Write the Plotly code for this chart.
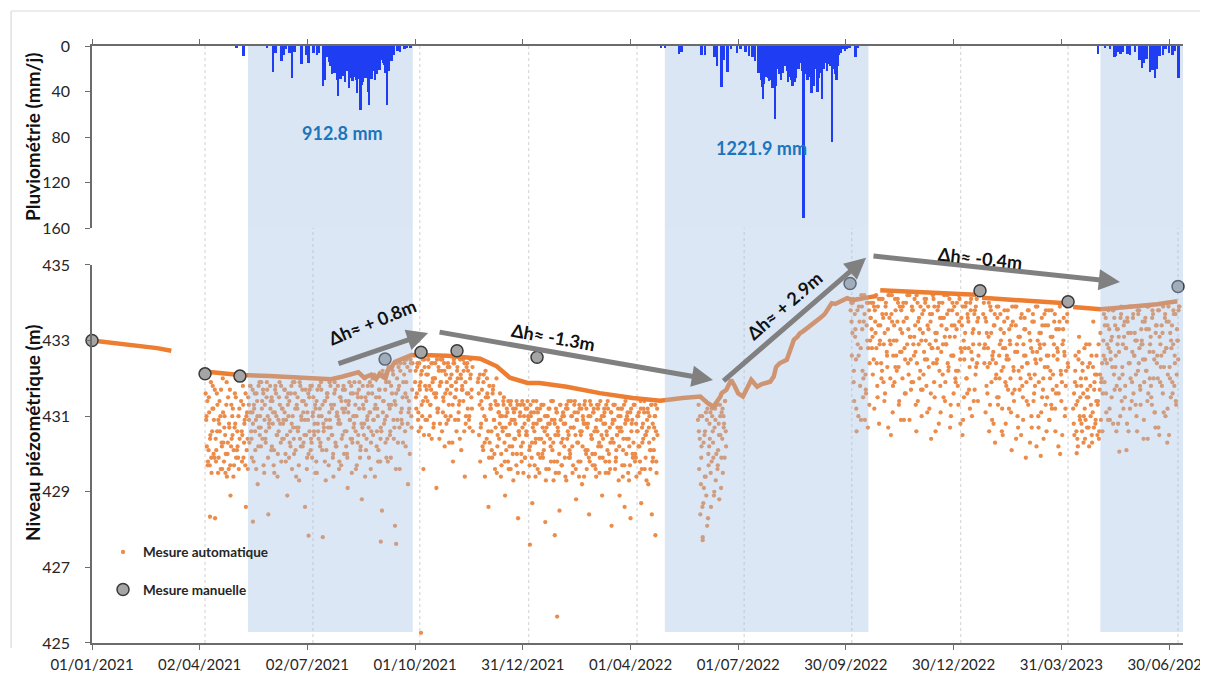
import plotly.graph_objects as go
import pandas as pd

BASE = pd.Timestamp("2021-01-01")


def to_date(v):
    return None if v is None else BASE + pd.Timedelta(days=v)


# ---------------- axis ticks ----------------
tick_days = [0, 91, 182, 273, 364, 455, 546, 637, 728, 819, 910]
tick_text = ["01/01/2021", "02/04/2021", "02/07/2021", "01/10/2021", "31/12/2021",
             "01/04/2022", "01/07/2022", "30/09/2022", "30/12/2022", "31/03/2023",
             "30/06/2023"]
grid_days = [95.5, 186.7, 277, 369, 460.5, 551, 642, 734, 824.7, 917.6]
rain_ticks = [0, 40, 80, 120, 160]
level_ticks = [425, 427, 429, 431, 433, 435]

# ---------------- rainfall (mm/day), day offset from 01/01/2021 ----------------
rain_day = [122, 128, 148, 153, 155, 160, 162, 164, 167, 169, 171, 177, 181, 183, 187, 190,
            192, 195, 197, 199, 200, 201, 202, 203, 204, 205, 206, 207, 208, 209, 210, 211,
            212, 213, 214, 215, 216, 217, 218, 219, 220, 221, 222, 223, 224, 225, 226, 227,
            228, 229, 230, 231, 232, 233, 234, 235, 236, 237, 238, 239, 240, 241, 242, 243,
            244, 245, 246, 247, 248, 249, 250, 251, 252, 253, 255, 258, 260, 264, 266, 269,
            481, 484, 496, 498, 515, 518, 526, 528, 532, 534, 537, 540, 545, 548, 552, 555,
            558, 560, 563, 564, 565, 566, 567, 568, 569, 570, 571, 572, 573, 574, 575, 576,
            577, 578, 579, 580, 581, 582, 583, 584, 585, 586, 587, 588, 589, 590, 591, 592,
            593, 594, 595, 596, 597, 598, 599, 600, 601, 602, 603, 604, 605, 606, 607, 608,
            609, 610, 611, 612, 613, 614, 615, 616, 617, 618, 619, 620, 621, 622, 623, 624,
            625, 626, 627, 628, 629, 630, 631, 632, 633, 634, 636, 638, 640, 645, 647,
            850, 856, 860, 864, 865, 867, 869, 871, 875, 877, 881, 885, 887, 889, 891, 894,
            896, 898, 900, 902, 905, 907, 910, 913, 915, 918]
rain_mm = [1, 9, 2, 23, 6, 13, 8, 3, 6, 28, 5, 16, 8, 15, 6, 8,
           6, 35, 30, 10, 14, 18, 16, 25, 21, 24, 18, 30, 44, 22, 29, 20,
           26, 24, 32, 22, 19, 37, 28, 26, 31, 27, 22, 30, 41, 18, 29, 56,
           34, 32, 26, 28, 21, 40, 52, 15, 29, 22, 20, 30, 14, 25, 16, 21,
           12, 6, 15, 17, 24, 52, 18, 22, 10, 13, 8, 4, 5, 3, 2, 2,
           2, 1, 7, 5, 8, 8, 10, 18, 36, 12, 23, 3, 6, 3, 5, 9,
           10, 13, 24, 20, 30, 36, 47, 33, 25, 27, 28, 31, 22, 30, 37, 26,
           64, 35, 17, 20, 25, 30, 15, 24, 12, 18, 22, 32, 27, 26, 30, 35,
           24, 32, 28, 12, 20, 8, 15, 22, 151, 25, 18, 30, 30, 27, 22, 41,
           25, 35, 20, 18, 40, 28, 12, 24, 47, 20, 6, 15, 22, 16, 12, 18,
           84, 20, 20, 25, 30, 18, 8, 4, 6, 3, 4, 3, 2, 10, 2,
           7, 2, 3, 10, 9, 5, 7, 5, 7, 8, 5, 12, 19, 15, 11, 23,
           21, 28, 20, 9, 8, 3, 6, 8, 4, 28]
rain_total_text = ["912.8 mm", "1221.9 mm"]

# rainy seasons (shaded), day offsets
season_start = [131.8, 484, 852]
season_end = [271, 656, 923]

# ---------------- piezometric level (m) ----------------
manual_day = [0, 95.5, 125, 247.6, 278, 308.4, 376, 640.5, 750.3, 824.7, 917.6]
manual_level = [433.0, 432.12, 432.06, 432.51, 432.69, 432.73, 432.56, 434.51, 434.32, 434.03, 434.43]

# upper envelope of the automatic record (dense band)
line_day = [0, 20, 40, 55, 67, None,
            95, 110, 125, 150, 170, 190, 202, 212, 220, 225, 230, 236, 240, 243, 245, 248,
            250, 253, 256, 263, 270, 285, 300, 317, 328, 342, 353, 368, 378, 401, 429, 457,
            480, 499, 514, 520, 525, 531, 532, 536, 540, 543, 546, 550, 553, 557, 560, 562,
            566, 570, 573, 576, 578, 581, 584, 587, 590, 593, 596, 598, 601, 604, 608, 612,
            616, 619, 621, 623, 625, 628, 632, 635, 638, 643, 650, 657, 663, None,
            666, 690, 720, 747, None,
            752, 770, 792, 823, None,
            829, 840, 852, 865, 880, 900, 917]
line_level = [433.00, 432.93, 432.85, 432.80, 432.73, None,
              432.18, 432.13, 432.09, 432.06, 432.04, 432.00, 431.98, 432.05, 432.12, 432.16,
              432.02, 432.10, 431.98, 432.12, 432.06, 432.00,
              432.22, 432.30, 432.44, 432.52, 432.62, 432.61, 432.60, 432.55, 432.52, 432.32,
              432.02, 431.88, 431.88, 431.78, 431.61, 431.48,
              431.41, 431.48, 431.52, 431.35, 431.25, 431.52, 431.61, 431.70, 431.96, 431.80,
              431.60, 431.52, 431.70, 431.96, 431.85, 431.78,
              431.85, 431.88, 431.91, 432.05, 432.30, 432.40, 432.45, 432.49, 432.75, 433.02,
              433.10, 433.19, 433.25, 433.32, 433.40, 433.50,
              433.62, 433.70, 433.81, 433.88, 433.99, 433.97, 434.03, 434.08, 434.12, 434.07,
              434.12, 434.15, 434.18, None,
              434.33, 434.30, 434.26, 434.21, None,
              434.13, 434.09, 434.04, 433.99, None,
              433.89, 433.87, 433.83, 433.86, 433.90, 433.96, 434.04]

# scattered automatic readings: three per day (00h, 12h, 18h) from each segment start
cloud_start_day = [96, 273, 326, 512, 641, 753, 829]
cloud_b = [431.6, 430.2, 429.8, 431.1, 430.5, 429.5, 431.8, 430.9, 428.3, 430.1,
           431.3, 429.9, 430.6, 431.7, 429.6, 430.3, 431.0, 430.0, 429.4, 431.5,
           430.7, 428.9, 430.4, 431.2, 429.7, 430.8, 432.0, 430.2, 429.6, None,
           431.4, 430.5, 429.9, 430.9, 428.6, 431.1,
           431.5, 430.3, 431.8, 429.9, 430.8, 431.2, 430.1, 431.6, 429.2, 430.7,
           431.0, 431.9, 430.4, 429.7, 431.3, 430.6, 431.7, 428.4, 430.9, 431.4,
           430.2, 431.1, 429.5, 431.8, 430.5, 430.0, 431.5, 430.8, 429.8, 431.2,
           430.4, 431.7, 430.9, 428.9, 431.0, 430.3, 431.6, 429.6, 430.7, 431.9,
           430.1, 431.3, 430.6, 429.3, 431.8, 430.9, 430.2, 431.4, 428.6, 430.5,
           431.1, 430.0, 431.7, 430.4, 429.9, 431.5, 430.8, 431.2, 429.5, 430.6,
           431.8, 430.3, 431.0, 427.8, 430.7, 431.4, 430.1, 431.6, 429.7, 430.9,
           431.3, 430.5, 429.4, 431.9, 430.2, 431.1, 430.8, 429.8, 431.5, 430.4,
           431.7, 430.0, 431.2, 430.6, 429.1, 431.4, 430.9, 431.8, 430.3, 430.7,
           431.0, 429.6, 431.6, 430.5, 431.9, 430.2, 428.8, 431.3, 430.8, 431.5,
           430.4, 431.8, 429.9, 431.1, 430.6, 432.0, 430.9, 429.4, 431.5, 431.2,
           430.1, 431.7, 430.7, 428.5, 431.4, 432.1, 430.3, 431.0, 429.8, 431.9,
           430.6, 431.3, 432.2, 430.4, 428.1, 431.6, 430.9, 432.3, 429.6, 431.1,
           430.8, 431.9, 432.4, 430.2, 431.5, 429.2, 431.2, 432.5, 430.7]
cloud_b_pm = [430.9, 431.4, 430.1, 429.7, 431.9, 430.6, 431.2, 429.9, 430.4, 431.6,
              429.5, 430.8, 431.0, 430.3, 432.0, 429.8, 430.5, 431.3, 430.0, 429.6,
              431.7, 430.2, 431.0, 429.4, 430.7, 431.5, 430.1, 429.9, 431.2, None,
              430.6, 431.8, 430.3, 429.7, 431.0, 430.4,
              431.3, 431.8, 430.6, 431.1, 429.8, 431.6, 430.9, 431.4, 430.2, 431.9,
              430.7, 431.2, 431.7, 429.5, 430.4, 431.5, 431.0, 430.8, 431.8, 430.1,
              431.4, 429.7, 431.1, 431.6, 430.5, 430.9, 431.9, 430.3, 431.2, 430.8,
              431.7, 430.0, 431.5, 431.3, 429.9, 430.6, 431.8, 431.0, 430.4, 431.6,
              429.4, 431.2, 430.7, 431.9, 430.2, 431.4, 431.1, 430.5, 431.7, 429.6,
              430.9, 431.5, 431.8, 430.3, 431.0, 430.6, 431.3, 429.8, 431.7, 430.4,
              431.2, 431.9, 430.1, 430.8, 431.4, 429.3, 431.6, 430.7, 431.1, 431.8,
              430.5, 429.9, 431.3, 431.7, 430.2, 431.0, 430.9, 431.5, 429.7, 431.2,
              431.8, 430.6, 431.4, 430.0, 431.1, 431.9, 430.4, 429.5, 431.6, 430.8,
              431.3, 431.0, 430.3, 431.7, 429.9, 431.5, 430.7, 431.2, 432.0, 430.1,
              430.9, 431.6, 431.1, 429.6, 431.8, 430.5, 432.1, 431.3, 430.2, 431.0,
              431.7, 429.8, 430.6, 432.2, 431.4, 430.9, 431.9, 430.4, 432.3, 431.2,
              429.9, 431.6, 432.1, 430.7, 431.3, 432.4, 430.3, 431.8, 432.2, 430.9,
              431.5, 432.5, 430.6, 431.9, 432.3, 431.1, 430.0, 432.4, 431.7]
cloud_b_ev = [431.0, 429.7, 431.5, 430.4, 429.9, 431.2, 430.0, 431.7, 429.8, 430.6,
              430.9, 431.4, 429.6, 430.2, 431.1, 430.7, 429.5, 431.9, 430.3, 430.8,
              429.7, 431.3, 430.5, 430.1, 431.6, 429.9, 430.6, 431.0, 430.4, None,
              429.8, 431.3, 430.8, 431.6, 430.1, 429.6,
              430.9, 431.1, 430.4, 431.7, 431.3, 430.6, 429.6, 431.0, 431.8, 430.5,
              430.2, 431.4, 431.6, 430.9, 430.3, 431.9, 429.9, 430.7, 431.2, 431.5,
              430.8, 430.1, 431.7, 431.0, 429.4, 430.6, 431.3, 431.8, 430.4, 430.9,
              431.1, 429.8, 430.5, 431.6, 431.4, 430.2, 430.8, 431.9, 430.0, 431.2,
              430.7, 431.5, 429.7, 430.4, 431.0, 431.7, 430.3, 430.9, 431.3, 429.9,
              431.6, 430.6, 430.1, 431.8, 431.1, 430.5, 429.5, 431.4, 430.8, 431.0,
              430.2, 431.7, 431.3, 430.6, 429.8, 430.9, 431.5, 430.4, 431.9, 430.7,
              431.2, 430.0, 431.6, 430.3, 431.0, 431.8, 429.6, 430.8, 431.4, 430.5,
              431.1, 431.7, 430.2, 429.9, 431.3, 430.9, 431.6, 430.4, 431.0, 431.9,
              430.6, 429.7, 431.5, 431.2, 430.1, 430.8, 431.8, 430.5, 429.4, 431.4,
              431.0, 430.7, 431.9, 430.3, 431.6, 430.9, 431.2, 432.0, 430.6, 429.8,
              431.5, 430.4, 432.1, 431.1, 430.8, 431.7, 429.9, 432.2, 431.3, 430.5,
              431.8, 432.3, 430.9, 431.4, 429.6, 432.0, 431.7, 430.7, 432.4, 431.2,
              430.3, 432.1, 431.6, 432.5, 430.8, 431.4, 432.2, 431.0, 432.4]
cloud_c = [431.9, 431.2, 432.4, 430.6, 431.7, 432.1, 431.0, 429.6, 432.3, 431.5,
           430.9, 432.5, 431.8, 431.3, 430.4, 432.0, 431.6, 432.4, 429.1, 431.1,
           432.2, 430.8, 431.9, 432.5, 431.4, 430.2, 432.1, 431.7, 430.9, 432.3,
           431.0, 431.8, 429.8, 432.4, 431.5, 430.6, 432.0, 431.3, 432.5, 430.1,
           431.7, 432.2, 429.4, 431.0, 432.4, 431.6, 430.7, 432.1, 431.2]
cloud_c_pm = [432.2, 431.6, 430.9, 432.4, 431.9, 431.3, 432.5, 430.5, 431.8, 432.1,
              431.4, 432.3, 431.0, 431.7, 432.4, 430.7, 432.0, 431.5, 432.5, 431.2,
              430.4, 431.9, 432.2, 431.1, 432.4, 431.6, 430.8, 432.3, 431.3, 432.0,
              431.8, 430.3, 432.4, 431.5, 431.9, 432.2, 430.9, 431.4, 432.1, 431.7,
              432.5, 430.6, 431.9, 432.3, 431.2, 430.9, 432.0, 431.5, 432.3]
cloud_c_ev = [431.5, 432.3, 431.1, 431.8, 430.7, 432.2, 431.4, 432.5, 430.9, 431.7,
              432.1, 430.5, 431.3, 432.4, 431.9, 430.8, 432.0, 431.6, 431.2, 432.3,
              431.8, 432.5, 430.6, 431.5, 432.2, 431.0, 431.9, 432.4, 430.3, 431.6,
              432.1, 431.3, 432.5, 430.9, 431.7, 432.3, 431.1, 430.4, 432.0, 431.8,
              431.4, 432.4, 430.8, 431.6, 432.2, 431.0, 432.5, 431.7, 430.6]
cloud_d = [431.9, 430.5, 429.8, 431.4, 430.2, 432.1, 429.4, 430.9, 431.6, 428.6,
           430.3, 431.2, 429.9, 431.8, 430.0, 430.7, 429.5, 431.3, 430.4, 431.0,
           429.7, 430.6, 431.5, 428.9, 430.1, 431.1, 429.6, 430.8, 431.4, 430.2,
           429.3, 430.9, 431.2, 430.0, 428.3, 430.5, 431.3, 429.8, 430.3, 431.0,
           429.9, 430.6, 431.4, 429.4, 430.2, 431.1, 428.7, 430.8, 429.7, 430.4,
           431.2, 430.0, 429.5, 430.9, 431.3, 429.9, 430.3, 428.2, 430.7, 431.0,
           429.6, 430.4, 431.4, 430.1, 429.3, 430.8, 431.2, 429.8, 430.5, 428.5,
           430.9, 429.7, 431.1, 430.2, 429.4, 431.3, 430.6, 429.9, 430.0, 431.0,
           429.5, 430.7, 431.4, 428.8, 430.3, 429.8, 431.2, 430.5, 429.2, 430.9,
           431.3, 430.1, 429.6, 430.8, 428.4, 431.0, 430.4, 429.7, 431.2, 430.0,
           429.4, 430.6, 431.3, 429.9, 430.2, 428.9, 430.8, 431.1, 429.5, 430.5,
           431.2, 429.8, 430.3, 428.1, 430.9, 431.3, 429.6, 430.1, 430.7, 429.3,
           430.6, 431.2, 429.7, 430.4, 428.6, 430.9, 431.0, 429.5, 430.2, 428.3,
           430.8, 429.9, 431.3, 430.0, 429.4, 430.6, 431.1, 429.8, 428.7, 430.3,
           431.2, 429.6, 430.5, 430.9, 429.2, 431.0, 430.1, 428.4, 429.9, 430.7,
           431.3, 429.5]
cloud_d_pm = [432.0, 431.3, 430.7, 431.7, 430.1, 431.0, 432.2, 430.4, 431.5, 429.9,
              431.2, 430.6, 431.6, 430.9, 429.6, 431.3, 430.2, 431.1, 430.8, 429.4,
              431.0, 431.4, 430.3, 430.7, 431.2, 429.8, 430.5, 431.3, 430.9, 430.0,
              431.1, 430.4, 429.7, 431.3, 430.6, 431.0, 430.2, 431.4, 429.5, 430.8,
              431.2, 430.5, 431.0, 430.1, 431.3, 429.9, 430.7, 431.1, 430.3, 431.4,
              429.6, 430.9, 431.2, 430.4, 430.0, 431.3, 430.6, 429.3, 431.0, 430.8,
              431.2, 430.2, 430.9, 431.4, 429.8, 430.5, 431.1, 430.7, 429.5, 431.3,
              430.3, 431.0, 430.8, 429.9, 431.2, 430.4, 431.4, 430.1, 430.7, 431.0,
              429.7, 431.3, 430.5, 430.9, 431.1, 429.4, 430.6, 431.2, 430.2, 430.8,
              431.4, 430.0, 430.7, 431.0, 429.8, 431.3, 430.4, 431.1, 430.6, 429.6,
              430.9, 431.2, 430.3, 431.4, 430.5, 429.9, 431.0, 430.8, 431.3, 430.1,
              429.5, 430.7, 431.1, 430.4, 431.3, 430.9, 429.8, 430.5, 431.2, 430.2,
              431.0, 430.6, 429.4, 431.3, 430.8, 430.0, 431.1, 430.4, 429.7, 431.2,
              430.9, 430.3, 431.3, 429.9, 430.6, 431.0, 430.2, 431.4, 429.6, 430.8,
              431.1, 430.5, 429.3, 431.2, 430.7, 430.1, 431.3, 429.8, 430.4, 431.0,
              430.6, 431.2]
cloud_d_ev = [431.6, 432.1, 430.8, 431.2, 431.9, 430.3, 431.5, 432.0, 430.6, 431.8,
              431.3, 430.1, 431.7, 430.9, 431.4, 432.0, 430.5, 431.1, 431.6, 430.0,
              430.7, 431.3, 429.8, 431.0, 430.5, 431.4, 430.2, 429.6, 430.9, 431.2,
              430.4, 430.8, 431.4, 429.5, 430.6, 431.1, 430.0, 430.7, 431.3, 429.9,
              430.5, 431.2, 430.9, 429.7, 431.0, 430.3, 431.4, 430.6, 429.4, 430.8,
              431.1, 430.4, 429.9, 431.3, 430.7, 430.1, 431.0, 429.6, 430.5, 431.2,
              430.8, 429.8, 431.4, 430.3, 430.9, 429.5, 431.1, 430.6, 430.0, 431.3,
              429.7, 430.4, 431.0, 430.8, 429.3, 431.2, 430.5, 429.9, 431.4, 430.2,
              430.7, 431.1, 429.6, 430.9, 430.3, 431.3, 429.8, 430.6, 431.0, 429.4,
              430.8, 431.2, 430.1, 429.9, 431.4, 430.5, 430.0, 431.1, 429.7, 430.7,
              431.3, 430.2, 429.5, 430.9, 431.0, 430.4, 431.2, 429.8, 430.6, 431.4,
              430.0, 429.6, 431.1, 430.8, 430.3, 431.3, 429.9, 430.5, 431.0, 428.9,
              430.7, 431.2, 430.1, 429.7, 431.4, 430.4, 430.9, 429.3, 431.1, 430.6,
              430.0, 431.3, 429.8, 430.8, 431.0, 430.2, 429.5, 431.2, 430.7, 430.4,
              431.4, 429.9, 430.6, 431.1, 430.3, 429.6, 431.3, 430.8, 430.1, 431.0,
              429.8, 430.5]
cloud_v = [430.9, 429.6, 428.4, 430.2, 427.8, 429.1, 430.6, 428.9, 431.2, 429.7,
           430.4, 428.6, 431.0, 429.9, 430.7, 429.3, 431.3, 430.1, 428.8, 430.5,
           431.1, 429.5, 430.8, 431.4]
cloud_v_pm = [431.3, 430.4, 429.2, 431.0, 428.7, 430.5, 429.4, 430.9, 428.3, 430.2,
              431.1, 429.8, 430.6, 428.9, 431.2, 430.0, 429.6, 430.8, 431.3, 429.1,
              430.4, 431.0, 429.9, 430.6]
cloud_v_ev = [430.6, 431.0, 429.9, 428.6, 430.3, 429.4, 431.1, 428.1, 430.0, 430.8,
              429.5, 431.2, 430.3, 429.0, 430.9, 431.3, 429.7, 430.5, 431.0, 429.9,
              431.2, 430.7, 431.4, 430.2]
cloud_e12 = [433.8, 432.6, 434.1, 431.4, 433.3, 430.6, 432.9, 433.9, 431.8, 434.2,
             432.2, 433.5, 430.9, 431.6, 433.0, 434.0, 432.4,
             433.6, 432.8, 434.0, 431.2, 433.2, 432.4, 433.9, 430.8, 433.4, 432.0,
             434.1, 432.9, 431.6, 433.7, 432.3, 434.2, 433.0, 430.5, 433.5, 432.6,
             431.9, 433.8, 432.2, 434.0, 431.4, 433.3, 432.7, 433.9, 430.9, 432.5,
             433.6, 434.2, 432.1, 433.1, 431.7, 433.8, 432.9, 434.1, 431.3, 432.4,
             433.5, 432.0, 433.9, 431.0, 433.2, 432.7, 434.0, 431.8, 433.4, 432.3,
             433.7, 430.4, 432.8, 434.1, 431.5, 433.0, 432.5, 433.9, 432.2, 431.1,
             433.6, 432.9, 434.2, 431.9, 433.3, 432.4, 433.8, 430.7, 432.6, 434.0,
             431.6, 433.1, 432.2, 433.7, 431.3, 434.1, 432.8, 433.4, 430.9, 432.5,
             433.9, 432.0, 433.6, 431.7, 434.0, 432.7, 433.2, 431.4, 433.8, 432.3,
             433.5, 432.6]
cloud_e12_pm = [434.0, 433.2, 431.9, 433.7, 432.5, 434.1, 431.0, 433.5, 432.8, 433.9,
                431.5, 434.2, 432.1, 433.4, 430.7, 433.8, 433.0,
                434.0, 433.1, 432.5, 433.8, 434.2, 431.8, 433.4, 432.9, 434.1, 432.2,
                433.6, 431.4, 433.9, 432.7, 433.3, 434.2, 432.0, 433.7, 431.1, 433.0,
                434.1, 432.6, 433.5, 432.3, 433.9, 430.9, 433.2, 434.0, 432.8, 431.6,
                433.6, 432.4, 434.2, 433.1, 431.9, 433.8, 432.6, 433.4, 430.6, 434.0,
                432.9, 433.3, 431.7, 433.7, 432.1, 434.1, 433.0, 432.5, 433.9, 431.2,
                433.5, 432.8, 434.2, 431.9, 433.2, 432.4, 433.8, 430.8, 433.6, 432.7,
                434.0, 431.5, 433.1, 432.9, 433.7, 432.2, 434.1, 431.3, 433.4, 432.6,
                433.9, 432.0, 433.3, 431.8, 434.2, 432.5, 433.6, 430.5, 433.0, 432.8,
                434.0, 431.6, 433.5, 432.3, 433.8, 431.0, 432.9, 433.7, 432.1, 434.1,
                431.4, 433.2]
cloud_e12_ev = [433.5, 434.0, 432.2, 433.1, 431.2, 433.8, 432.6, 434.1, 430.9, 433.3,
                432.0, 433.7, 431.7, 434.0, 432.8, 431.3, 433.6,
                433.3, 432.1, 433.9, 433.5, 432.8, 431.5, 434.1, 433.0, 432.4, 433.7,
                431.9, 433.2, 434.0, 432.6, 430.7, 433.6, 432.9, 434.2, 431.8, 433.4,
                432.3, 433.0, 434.1, 431.3, 432.7, 433.8, 432.0, 433.5, 431.6, 434.0,
                432.9, 433.3, 430.9, 432.5, 433.9, 431.9, 433.1, 432.7, 434.2, 431.4,
                433.6, 432.2, 433.0, 431.7, 433.8, 432.5, 434.1, 431.1, 433.3, 432.9,
                431.6, 433.7, 432.4, 433.9, 430.6, 433.2, 432.8, 434.0, 431.8, 433.4,
                432.1, 433.6, 431.4, 432.9, 434.2, 432.3, 433.1, 431.0, 433.8, 432.6,
                433.4, 431.9, 434.0, 432.2, 433.5, 430.8, 432.7, 433.9, 431.5, 433.2,
                432.0, 433.7, 432.8, 431.2, 434.1, 432.5, 433.3, 431.7, 433.9, 432.4,
                433.6, 432.9]
cloud_e3 = [433.7, 432.4, 431.1, 433.2, 432.8, 430.6, 433.9, 431.9, 432.5, 433.4,
            430.3, 432.1, 433.6, 431.5, 432.9, 433.0, 431.2, 432.3, 433.8, 430.8,
            432.6, 431.7, 433.3, 432.0, 430.1, 433.5, 431.4, 432.7, 433.9, 431.0,
            432.2, 433.1, 430.5, 431.8, 432.9, 433.6, 429.9, 432.4, 431.3, 433.2,
            432.0, 430.7, 433.7, 431.6, 432.5, 430.2, 433.0, 431.9, 432.8, 431.1,
            433.4, 430.4, 432.3, 433.8, 431.5, 432.6, 430.9, 433.1, 431.2, 432.1,
            433.5, 430.6, 431.8, 432.7, 433.3, 430.0, 431.4, 432.9, 433.6, 431.0,
            432.2, 433.7]
cloud_e3_pm = [434.0, 432.9, 433.5, 431.6, 433.1, 432.4, 433.8, 430.9, 432.7, 433.4,
               432.0, 433.9, 431.3, 432.6, 433.7, 432.2, 430.5, 433.2, 432.8, 431.8,
               433.6, 432.5, 433.0, 431.1, 433.9, 432.3, 431.7, 433.4, 432.9, 430.7,
               433.1, 432.0, 433.7, 431.5, 432.6, 433.3, 431.9, 432.4, 433.8, 430.3,
               432.8, 433.5, 431.4, 432.1, 433.9, 432.7, 431.0, 433.2, 432.5, 433.6,
               431.7, 432.9, 433.4, 430.6, 432.3, 433.8, 432.0, 431.3, 433.1, 432.6,
               433.7, 431.6, 432.8, 430.2, 433.5, 432.2, 431.9, 433.3, 432.7, 431.2,
               433.9, 432.4]
cloud_e3_ev = [432.8, 433.6, 431.8, 432.3, 434.0, 431.3, 433.2, 432.6, 430.8, 433.7,
               432.4, 431.5, 433.9, 432.0, 433.3, 430.6, 432.8, 433.5, 431.9, 432.5,
               433.8, 431.2, 432.9, 433.4, 431.6, 432.2, 433.9, 430.4, 432.7, 433.1,
               431.7, 433.6, 432.3, 430.9, 433.3, 432.6, 431.4, 433.8, 432.1, 433.0,
               431.0, 432.7, 433.5, 431.8, 432.4, 433.9, 430.7, 432.9, 433.2, 431.5,
               432.0, 433.7, 431.3, 432.6, 433.4, 430.9, 432.2, 433.8, 431.7, 432.9,
               431.2, 433.3, 432.5, 431.6, 433.9, 432.1, 430.5, 433.0, 432.6, 431.8,
               433.5, 432.3]
cloud_e4 = [431.2, 430.5, 432.6, 431.8, 430.2, 433.1, 431.5, 430.8, 432.2, 431.0,
            430.4, 432.9, 431.7, 430.7, 432.4, 431.3, 430.3, 433.5, 431.9, 430.9,
            432.1, 431.4, 430.6, 433.2, 432.0, 431.6, 433.7, 432.5, 431.1, 433.4,
            432.8, 430.9, 433.0, 432.3, 433.8, 431.7, 432.6, 433.3, 430.8, 432.0,
            433.6, 431.4, 432.9, 433.1, 431.8, 430.1, 433.5, 432.4, 431.2, 433.9,
            432.7, 431.6, 433.2, 432.1, 430.6, 433.7, 432.8, 431.3, 433.0, 432.5,
            431.9, 433.6, 432.2, 430.4, 433.3, 432.9, 431.5, 433.8, 432.0, 431.1,
            433.4, 432.6, 430.7, 433.1, 432.3, 431.8, 433.9, 432.7, 431.0, 433.5,
            432.1, 430.5, 433.2, 432.8, 431.6, 433.7, 432.4, 431.3, 433.0, 433.8]
cloud_e4_pm = [430.8, 431.9, 431.3, 430.4, 432.5, 431.0, 432.0, 430.6, 431.6, 432.8,
               430.9, 431.5, 432.3, 430.2, 431.8, 432.6, 431.1, 430.7, 432.1, 431.4,
               430.5, 432.9, 431.7, 430.9, 432.4,
               433.0, 431.9, 433.6, 432.4, 430.9, 433.3, 432.7, 431.5, 433.8, 432.1,
               433.4, 430.6, 432.9, 433.1, 431.7, 433.7, 432.3, 431.2, 433.5, 432.8,
               430.8, 433.2, 433.9, 432.0, 431.4, 433.6, 432.6, 433.0, 431.0, 433.8,
               432.4, 431.8, 433.3, 432.9, 430.4, 433.5, 432.2, 433.9, 431.6, 432.7,
               433.1, 431.3, 433.7, 432.5, 430.7, 433.4, 432.0, 433.8, 431.9, 432.6,
               433.2, 431.1, 433.6, 432.8, 430.3, 433.9, 432.3, 431.5, 433.4, 432.9,
               431.8, 433.7, 432.1, 433.0, 433.9]
cloud_e4_ev = [431.6, 432.2, 430.6, 431.4, 432.7, 430.9, 431.8, 432.4, 430.3, 431.2,
               432.0, 430.7, 431.5, 432.9, 431.0, 430.5, 432.3, 431.7, 430.8, 432.6,
               431.3, 430.4, 432.1, 431.9, 430.6,
               432.6, 433.4, 431.6, 432.9, 433.8, 431.2, 432.5, 433.1, 430.8, 433.6,
               432.3, 431.8, 433.3, 432.7, 431.0, 433.9, 432.1, 433.4, 431.5, 432.8,
               433.6, 430.6, 432.4, 433.2, 431.9, 433.7, 432.6, 431.3, 433.0, 432.2,
               433.8, 431.7, 432.9, 433.5, 430.9, 432.5, 433.3, 431.4, 433.9, 432.0,
               431.8, 433.6, 432.7, 431.1, 433.2, 432.4, 433.8, 430.5, 432.9, 433.4,
               431.6, 432.3, 433.7, 432.8, 431.2, 433.5, 432.0, 433.0, 431.9, 433.8,
               432.6, 431.4, 433.3, 432.5, 433.9]
cloud_sets = [
    (0.0, [cloud_b, cloud_c, cloud_d, cloud_v, cloud_e12, cloud_e3, cloud_e4]),
    (0.5, [cloud_b_pm, cloud_c_pm, cloud_d_pm, cloud_v_pm, cloud_e12_pm, cloud_e3_pm, cloud_e4_pm]),
    (0.75, [cloud_b_ev, cloud_c_ev, cloud_d_ev, cloud_v_ev, cloud_e12_ev, cloud_e3_ev, cloud_e4_ev]),
]

# isolated low readings
outlier_day = [99.7, 136, 183, 244, 257, 278, 370, 391, 393, 476, 516, 801.6, 832, 868]
outlier_level = [428.34, 428.21, 427.84, 427.68, 427.62, 425.27, 427.6, 427.85, 425.7,
                 427.85, 427.72, 429.95, 430.02, 430.06]

dh_text = ["Δh≈ + 0.8m", "Δh≈ -1.3m", "Δh≈ + 2.9m", "Δh≈ -0.4m"]

# ---------------- build figure ----------------
FONT = "Lato, Carlito, Calibri, sans-serif"
ORANGE_LINE = "#ED7D31"
ORANGE_PT = "#EC8C4B"
AXIS = "#6B6B6B"

fig = go.Figure()

fig.add_trace(go.Bar(
    x=[to_date(v) for v in rain_day], y=rain_mm,
    width=2.0 * 86400000, marker=dict(color="#1F3DF2", line=dict(width=0)),
    xaxis="x", yaxis="y", showlegend=False, name="Pluie"))

cloud_x, cloud_y = [], []
for hour_frac, segs in cloud_sets:
    for start, seg in zip(cloud_start_day, segs):
        for i, val in enumerate(seg):
            cloud_x.append(to_date(start + i + hour_frac))
            cloud_y.append(val)
cloud_x += [to_date(v) for v in outlier_day]
cloud_y += outlier_level

fig.add_trace(go.Scatter(
    x=cloud_x, y=cloud_y, mode="markers", name="Mesure automatique",
    marker=dict(color=ORANGE_PT, size=4.3, line=dict(width=0)),
    xaxis="x2", yaxis="y2", legendgroup="a"))

fig.add_trace(go.Scatter(
    x=[to_date(v) for v in line_day], y=line_level, mode="lines",
    line=dict(color=ORANGE_LINE, width=4.5), connectgaps=False,
    xaxis="x2", yaxis="y2", showlegend=False, legendgroup="a"))

fig.add_trace(go.Scatter(
    x=[to_date(v) for v in manual_day], y=manual_level, mode="markers",
    name="Mesure manuelle", cliponaxis=False,
    marker=dict(color="#A5A5A5", size=12, line=dict(color="#3A3A3A", width=1.5)),
    xaxis="x2", yaxis="y2", legendgroup="b"))

# ---------------- shapes ----------------
shapes = []
for g in grid_days:
    shapes.append(dict(type="line", xref="x", yref="paper", x0=to_date(g), x1=to_date(g),
                       y0=0, y1=1, line=dict(color="#D0D0D0", width=1, dash="dot"),
                       layer="below"))
for s, e in zip(season_start, season_end):
    shapes.append(dict(type="rect", xref="x", yref="y", x0=to_date(s), x1=to_date(e),
                       y0=0, y1=160, fillcolor="#DAE6F3", line=dict(width=0), layer="below"))
    shapes.append(dict(type="rect", xref="x", yref="paper", x0=to_date(s), x1=to_date(e),
                       y0=0.0184, y1=0.6951, fillcolor="rgba(155,189,226,0.36)",
                       line=dict(width=0), layer="above"))
shapes.append(dict(type="line", xref="paper", yref="paper", x0=-0.0742, x1=1.03,
                   y0=1.0586, y1=1.0586, line=dict(color="#D9D9D9", width=1.2)))
shapes.append(dict(type="line", xref="paper", yref="paper", x0=-0.0742, x1=-0.0742,
                   y0=-0.0084, y1=1.0586, line=dict(color="#D9D9D9", width=1.2)))

# ---------------- annotations ----------------
ann = []
ann.append(dict(text="<b>Pluviométrie (mm/j)</b>", xref="paper", yref="paper",
                x=-0.054, y=0.8476, xanchor="center", yanchor="middle", textangle=-90,
                showarrow=False, font=dict(family=FONT, size=19, color="#111111")))
ann.append(dict(text="<b>Niveau piézométrique (m)</b>", xref="paper", yref="paper",
                x=-0.055, y=0.3534, xanchor="center", yanchor="middle", textangle=-90,
                showarrow=False, font=dict(family=FONT, size=19, color="#111111")))
ann.append(dict(text="<b>" + rain_total_text[0] + "</b>", xref="x", yref="y",
                x=to_date(211.4), y=76.5, showarrow=False,
                font=dict(family=FONT, size=18, color="#1C75BC")))
ann.append(dict(text="<b>" + rain_total_text[1] + "</b>", xref="x", yref="y",
                x=to_date(565.3), y=89.7, showarrow=False,
                font=dict(family=FONT, size=18, color="#1C75BC")))

arrows = [((207, 432.38), (284, 433.20)),
          ((292.4, 433.23), (524.7, 431.96)),
          ((532.3, 431.90), (654, 435.19)),
          ((659, 435.24), (868.6, 434.55))]
for (t, h) in arrows:
    ann.append(dict(text="", xref="x2", yref="y2", axref="x2", ayref="y2",
                    x=to_date(h[0]), y=h[1], ax=to_date(t[0]), ay=t[1],
                    showarrow=True, arrowhead=2, arrowsize=0.85, arrowwidth=5,
                    arrowcolor="#808080", standoff=0, startstandoff=0))

# label positions: (day, paper-y, angle); paper-y = 0.6332*(level-425)/10
label_pos = [(236.6, 0.6332 * (433.49 - 425) / 10, -22),
             (389.5, 0.6332 * (433.10 - 425) / 10, 10),
             (585.5, 0.6332 * (433.94 - 425) / 10, -41),
             (750.3, 0.6332 * (435.19 - 425) / 10, 6)]
for txt, (dx, py, ang) in zip(dh_text, label_pos):
    ann.append(dict(text="<b>" + txt + "</b>", xref="x2", yref="paper", x=to_date(dx), y=py,
                    xanchor="center", yanchor="middle", textangle=ang, showarrow=False,
                    font=dict(family=FONT, size=18, color="#111111")))

xr = [to_date(0), to_date(921.8)]
tick_dates = [to_date(v) for v in tick_days]

fig.update_layout(
    width=1200, height=665,
    margin=dict(l=84, r=25, t=38, b=30, autoexpand=False),
    plot_bgcolor="white", paper_bgcolor="white",
    font=dict(family=FONT, size=15, color="#262626"),
    bargap=0,
    showlegend=True,
    legend=dict(x=0.0101, y=0.178, xanchor="left", yanchor="top",
                bgcolor="rgba(0,0,0,0)", tracegroupgap=17, itemsizing="trace",
                font=dict(family=FONT, size=13.5, color="#262626", weight="bold")),
    xaxis=dict(domain=[0, 1], anchor="y", side="top", type="date", range=xr,
               tickvals=tick_dates, showticklabels=False, ticks="outside", ticklen=5,
               tickcolor=AXIS, showline=True, linecolor=AXIS, linewidth=1.5,
               showgrid=False, zeroline=False, automargin=False),
    xaxis2=dict(domain=[0, 1], anchor="y2", type="date", range=xr, matches="x",
                tickvals=tick_dates, ticktext=tick_text, ticks="outside", ticklen=5,
                tickcolor=AXIS, showline=True, linecolor=AXIS, linewidth=1.5,
                showgrid=False, zeroline=False, tickfont=dict(size=15),
                ticklabelstandoff=2, ticklabeloverflow="allow", automargin=False),
    yaxis=dict(domain=[0.6951, 1], anchor="x", range=[160, 0], tickvals=rain_ticks,
               ticks="outside", ticklen=5, tickcolor=AXIS, showline=True, linecolor=AXIS,
               linewidth=1.5, showgrid=False, zeroline=False, tickfont=dict(size=16),
               ticklabelstandoff=12, automargin=False),
    yaxis2=dict(domain=[0, 0.6332], anchor="x2", range=[425, 435], tickvals=level_ticks,
                ticks="outside", ticklen=5, tickcolor=AXIS, showline=True, linecolor=AXIS,
                linewidth=1.5, showgrid=False, zeroline=False, tickfont=dict(size=16),
                ticklabelstandoff=12, automargin=False),
    shapes=shapes,
    annotations=ann,
)

fig.write_html("out.html")
